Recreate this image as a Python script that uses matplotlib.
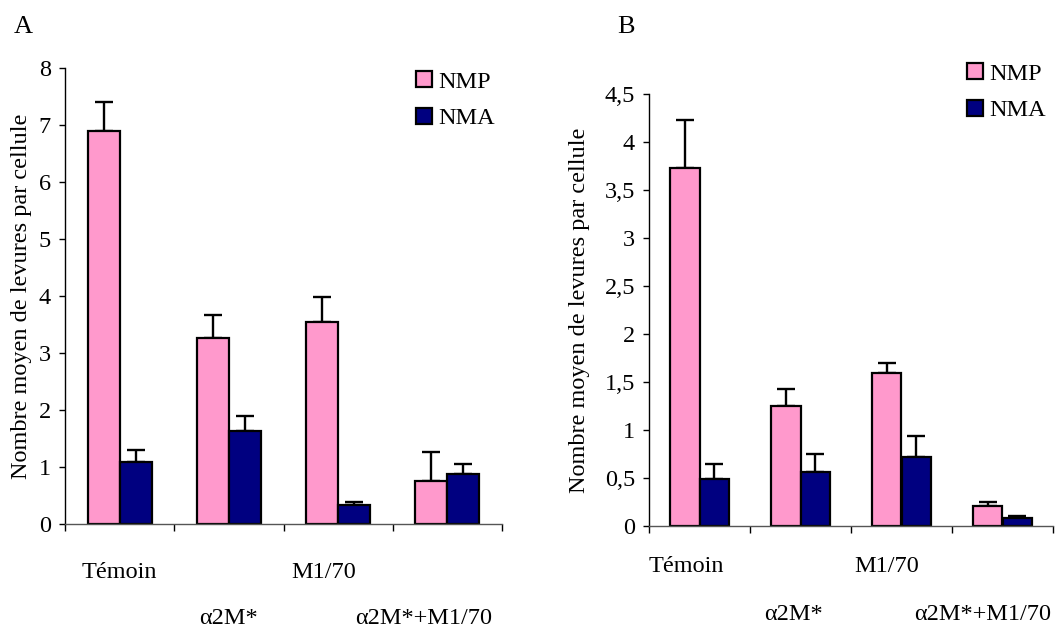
import numpy as np
import matplotlib.pyplot as plt

plt.rcParams['font.family'] = ['Liberation Serif', 'DejaVu Serif']
plt.rcParams['font.size'] = 17.5

# --- données
categories = ["Témoin", "α2M*", "M1/70", "α2M*+M1/70"]

nmp_a = [6.89, 3.27, 3.54, 0.75]
nmp_a_err = [0.51, 0.40, 0.45, 0.51]
nma_a = [1.08, 1.63, 0.33, 0.87]
nma_a_err = [0.21, 0.26, 0.06, 0.19]

nmp_b = [3.73, 1.25, 1.59, 0.21]
nmp_b_err = [0.50, 0.18, 0.11, 0.04]
nma_b = [0.49, 0.56, 0.72, 0.08]
nma_b_err = [0.16, 0.19, 0.22, 0.02]

yticks_a = [0, 1, 2, 3, 4, 5, 6, 7, 8]
yticks_b = [0, 0.5, 1, 1.5, 2, 2.5, 3, 3.5, 4, 4.5]

PINK = "#FF99CC"
NAVY = "#000080"
W = 0.293


def panel(ax, nmp, nmp_err, nma, nma_err, yticks, ylabel_x, lab_dy, lab_dx):
    x = np.arange(len(categories))
    kw = dict(width=W, edgecolor="black", linewidth=1.6, zorder=2)
    ax.bar(x - W / 2, nmp, color=PINK, label="NMP", **kw)
    ax.bar(x + W / 2, nma, color=NAVY, label="NMA", **kw)
    ekw = dict(fmt="none", ecolor="black", elinewidth=1.7, capsize=6.5, capthick=1.7, zorder=1)
    ax.errorbar(x - W / 2, nmp, yerr=[np.zeros(len(nmp)), nmp_err], **ekw)
    ax.errorbar(x + W / 2, nma, yerr=[np.zeros(len(nma)), nma_err], **ekw)

    ax.set_xlim(-0.5, len(categories) - 0.5)
    ax.set_ylim(yticks[0], yticks[-1])
    ax.set_yticks(yticks)
    ax.set_yticklabels([f"{t:g}".replace(".", ",") for t in yticks])
    ax.set_xticks(np.arange(len(categories) + 1) - 0.5)
    ax.set_xticklabels([])
    ax.tick_params(axis="y", length=4, width=1, pad=6)
    ax.tick_params(axis="x", length=5, width=1, direction="out")
    for s in ["top", "right"]:
        ax.spines[s].set_visible(False)
    ax.spines["left"].set_linewidth(1)
    ax.spines["bottom"].set_linewidth(1)
    ax.spines["bottom"].set_color("#555555")

    for i, lab in enumerate(categories):
        ax.annotate(lab, xy=(i, 0), xycoords=("data", "axes fraction"),
                    xytext=(lab_dx[i] * 0.72, -lab_dy[i % 2] * 0.72),
                    textcoords="offset points", ha="center", va="center",
                    annotation_clip=False)

    ax.set_ylabel("Nombre moyen de levures par cellule")
    ax.yaxis.set_label_coords(ylabel_x, 0.5)


def legend(ax, x0, y0):
    ax.legend(loc="upper left", bbox_to_anchor=(x0 / 1057, 1 - y0 / 628),
              bbox_transform=fig.transFigure, frameon=False, handlelength=0.65,
              handleheight=0.65, handletextpad=0.25, labelspacing=0.62,
              borderpad=0, borderaxespad=0)


fig = plt.figure(figsize=(10.57, 6.28), dpi=100)

ax_a = fig.add_axes([65 / 1057, 1 - 524 / 628, 437 / 1057, 456 / 628])
panel(ax_a, nmp_a, nmp_a_err, nma_a, nma_a_err, yticks_a, -0.076,
      (48, 94), (0, 0, -14, -24))
legend(ax_a, 416, 71)

ax_b = fig.add_axes([649 / 1057, 1 - 526 / 628, 404 / 1057, 432 / 628])
panel(ax_b, nmp_b, nmp_b_err, nma_b, nma_b_err, yticks_b, -0.146,
      (41, 89), (-13, -7, -15, -20))
legend(ax_b, 967, 63)

fig.text(14 / 1057, 1 - 27 / 628, "A", fontsize=19, va="center", ha="left")
fig.text(617 / 1057, 1 - 27 / 628, "B", fontsize=19, va="center", ha="left")

fig.savefig("out.png", dpi=100)
